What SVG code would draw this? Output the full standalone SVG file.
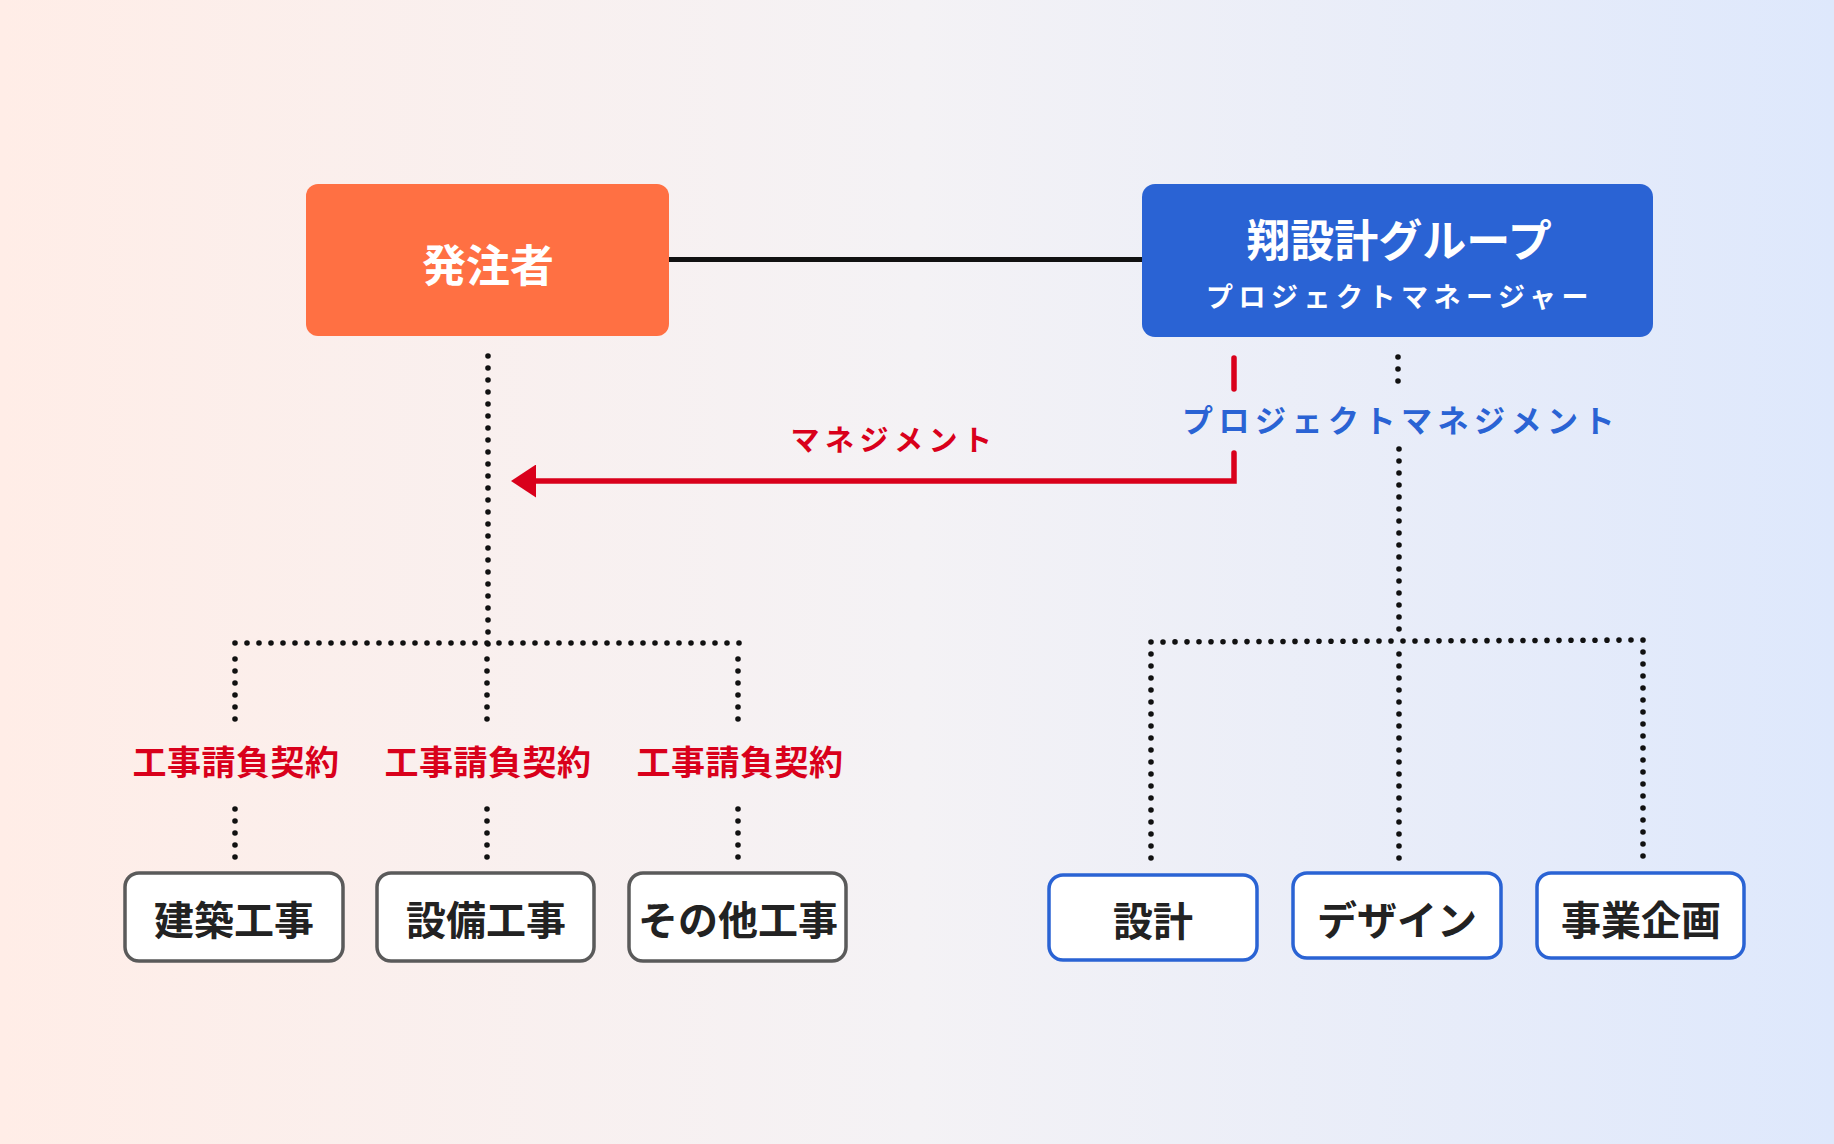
<svg xmlns="http://www.w3.org/2000/svg" width="1834" height="1144" viewBox="0 0 1834 1144">
<defs>
<linearGradient id="bg" x1="0" y1="0" x2="1" y2="0">
<stop offset="0" stop-color="#FFEDE7"/>
<stop offset="0.5" stop-color="#F4F2F5"/>
<stop offset="1" stop-color="#DEE8FC"/>
</linearGradient>
<marker id="arr" viewBox="0 0 25 33" refX="2" refY="16.5" markerWidth="25" markerHeight="33" markerUnits="userSpaceOnUse" orient="auto-start-reverse">
<path d="M0,0 L25,16.5 L0,33 Z" fill="#D9001B"/>
</marker>
<style>
text{font-family:"Noto Sans CJK JP","Noto Sans",sans-serif;font-weight:700;text-anchor:middle;dominant-baseline:central}
.dot{fill:none;stroke:#111;stroke-width:5.6;stroke-linecap:round;stroke-dasharray:0 12}
.red{fill:none;stroke:#D9001B;stroke-width:5.5;stroke-linecap:round;stroke-linejoin:miter}
.gbox{fill:#fff;stroke:#5A5A5A;stroke-width:3.5}
.bbox{fill:#fff;stroke:#2A63D4;stroke-width:3.5}
.btxt{font-size:40px;fill:#222}
.ctr{font-size:34px;fill:#D9001B;letter-spacing:0.5px}
</style>
</defs>
<rect width="1834" height="1144" fill="url(#bg)"/>

<g id="connectors">
<line x1="669" y1="259.5" x2="1142" y2="259.5" stroke="#111" stroke-width="5"/>
<path class="dot" d="M488,356 V644.5"/>
<path class="dot" d="M235,643 H739.5"/>
<path class="dot" d="M235,659 V719.5"/>
<path class="dot" d="M487,659 V719.5"/>
<path class="dot" d="M738,659 V719.5"/>
<path class="dot" d="M235,809 V857.5"/>
<path class="dot" d="M487,809 V857.5"/>
<path class="dot" d="M738,809 V857.5"/>
<path class="dot" d="M1398,357 V381.5"/>
<path class="dot" d="M1399,449 V629.5"/>
<path class="dot" d="M1151,642 L1643.5,640"/>
<path class="dot" d="M1151,654 V862.5"/>
<path class="dot" d="M1399,654 V862.5"/>
<path class="dot" d="M1643,652 V860.5"/>
<path class="red" d="M1234,358 V389"/>
<path class="red" d="M1234,453 V481 H534" marker-end="url(#arr)"/>
<text x="894" y="438" style="font-size:29px;fill:#D9001B;letter-spacing:5.5px">マネジメント</text>
<text x="1401" y="418" style="font-size:31px;fill:#2A63D4;letter-spacing:5.5px">プロジェクトマネジメント</text>
<text x="236" y="760" class="ctr">工事請負契約</text>
<text x="488" y="760" class="ctr">工事請負契約</text>
<text x="740" y="760" class="ctr">工事請負契約</text>
</g>

<g id="client">
<rect x="306" y="184" width="363" height="152" rx="12" fill="#FF7043"/>
<text x="488" y="263" style="font-size:44px;fill:#fff">発注者</text>
</g>

<g id="pm">
<rect x="1142" y="184" width="511" height="153" rx="13" fill="#2A63D4"/>
<text x="1399" y="238" style="font-size:44px;fill:#fff">翔設計グループ</text>
<text x="1400" y="295" style="font-size:27px;fill:#fff;letter-spacing:5.5px">プロジェクトマネージャー</text>
</g>

<g id="kenchiku">
<rect class="gbox" x="125" y="873" width="218" height="88" rx="14"/>
<text class="btxt" x="234" y="918">建築工事</text>
</g>
<g id="setsubi">
<rect class="gbox" x="377" y="873" width="217" height="88" rx="14"/>
<text class="btxt" x="486" y="918">設備工事</text>
</g>
<g id="sonota">
<rect class="gbox" x="629" y="873" width="217" height="88" rx="14"/>
<text class="btxt" x="738" y="918">その他工事</text>
</g>

<g id="sekkei">
<rect class="bbox" x="1049" y="875" width="208" height="85" rx="14"/>
<text class="btxt" x="1153" y="919">設計</text>
</g>
<g id="design">
<rect class="bbox" x="1293" y="873" width="208" height="85" rx="14"/>
<text class="btxt" x="1397" y="918">デザイン</text>
</g>
<g id="kikaku">
<rect class="bbox" x="1537" y="873" width="207" height="85" rx="14"/>
<text class="btxt" x="1641" y="918">事業企画</text>
</g>
</svg>
